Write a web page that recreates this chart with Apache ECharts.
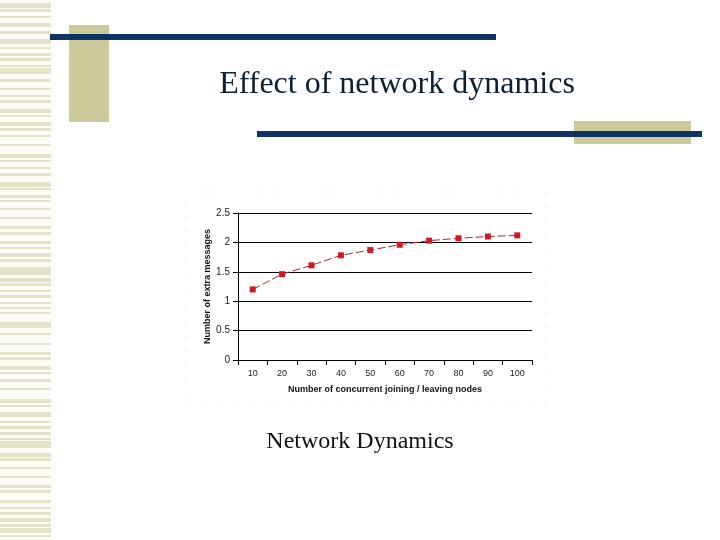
<!DOCTYPE html>
<html>
<head>
<meta charset="utf-8">
<script src="https://cdn.jsdelivr.net/npm/echarts@6/dist/echarts.min.js"></script>
<style>html,body{margin:0;padding:0;background:#fff;}#c{width:720px;height:540px;}</style>
</head>
<body>
<div id="c"></div>
<script>
var categories = ['10','20','30','40','50','60','70','80','90','100'];
var extraMessages = [1.2, 1.46, 1.61, 1.78, 1.87, 1.96, 2.03, 2.07, 2.1, 2.12];
var yTicks = [0, 0.5, 1, 1.5, 2, 2.5];

var stripes = [[3,5],[9,3],[16,2],[23,4],[31,3],[39,5],[47,2],[53,3],[58,3],[65,2],[68,6],[79,3],[88,2],[95,2],[100,3],[109,4],[115,2],[122,4],[128,3],
[135,2],[144,2],[154,4],[160,2],[167,2],[173,3],[182,5],[188,2],[195,3],[200,2],[208,2],[217,2],[226,3],[232,3],[241,3],[247,2],[253,4],[259,3],[267,3],
[270,5],[278,4],[283,3],[290,2],[295,3],[302,2],[307,2],[312,2],[322,6],[333,2],[343,2],[352,3],[357,3],[366,4],[372,2],[379,3],[388,2],[399,4],
[405,2],[412,5],[421,2],[426,3],[432,3],[438,2],[441,7],[453,4],[458,3],[467,2],[476,2],[485,3],[490,3],[500,3],[507,2],[512,3],[518,4],[524,3],[528,5],[535,2]];

var graphics = [{type:'rect', shape:{x:0,y:0,width:51,height:540}, style:{fill:'#fffef6'}, z:-10}];
stripes.forEach(function(s){
  graphics.push({type:'rect', shape:{x:0,y:s[0],width:51,height:s[1]}, style:{fill:'#e4e2c8'}, z:-9});
});
graphics.push(
  {type:'rect', shape:{x:69,y:25,width:40,height:97}, style:{fill:'#cdcb9c'}, z:-5},
  {type:'rect', shape:{x:50,y:34,width:446,height:6}, style:{fill:'#0d3462'}, z:-4},
  {type:'rect', shape:{x:574,y:121,width:117,height:23}, style:{fill:'#cdcb9c'}, z:-5},
  {type:'rect', shape:{x:257,y:131,width:445,height:6}, style:{fill:'#0d3462'}, z:-4},
  {type:'text', x:397, y:85, style:{text:'Effect of network dynamics', font:'32px "Liberation Serif", "Times New Roman", serif', fill:'#0d1f35', align:'center', verticalAlign:'middle'}},
  {type:'text', x:360, y:442, style:{text:'Network Dynamics', font:'24px "Liberation Serif", "Times New Roman", serif', fill:'#111', align:'center', verticalAlign:'middle'}},
  {type:'rect', shape:{x:185,y:192,width:360,height:215}, style:{fill:'none', stroke:'#d8d8d8', lineWidth:1, lineDash:[1,14]}, z:-3}
);

var chart = echarts.init(document.getElementById('c'), null, {renderer:'canvas'});
chart.setOption({
  animation:false,
  backgroundColor:'#ffffff',
  graphic: graphics,
  grid:{left:238, top:213, width:294, height:147, containLabel:false},
  xAxis:{
    type:'category', data:categories, boundaryGap:true,
    name:'Number of concurrent joining / leaving nodes', nameLocation:'middle', nameGap:25,
    nameTextStyle:{fontFamily:'Liberation Sans, Arial, sans-serif', fontSize:9, fontWeight:'bold', color:'#111'},
    axisLine:{lineStyle:{color:'#000', width:1}},
    axisTick:{show:true, interval:0, length:5, inside:false, lineStyle:{color:'#000'}},
    axisLabel:{interval:0, fontFamily:'Liberation Sans, Arial, sans-serif', fontSize:9, color:'#222', margin:9},
    splitLine:{show:false}
  },
  yAxis:{
    type:'value', min:yTicks[0], max:yTicks[yTicks.length-1], interval:0.5,
    name:'Number of extra messages', nameLocation:'middle', nameGap:26, nameRotate:90,
    nameTextStyle:{fontFamily:'Liberation Sans, Arial, sans-serif', fontSize:9, fontWeight:'bold', color:'#111'},
    axisLine:{show:true, lineStyle:{color:'#000', width:1}},
    axisTick:{show:true, length:5, lineStyle:{color:'#000'}},
    axisLabel:{fontFamily:'Liberation Sans, Arial, sans-serif', fontSize:10, color:'#222', margin:8},
    splitLine:{show:true, lineStyle:{color:'#000', width:1}}
  },
  series:[{
    type:'line', data:extraMessages,
    symbol:'rect', symbolSize:6,
    itemStyle:{color:'#cc1a26'},
    lineStyle:{color:'#a8283a', width:1, type:[8,3]}
  }]
});
</script>
</body>
</html>
